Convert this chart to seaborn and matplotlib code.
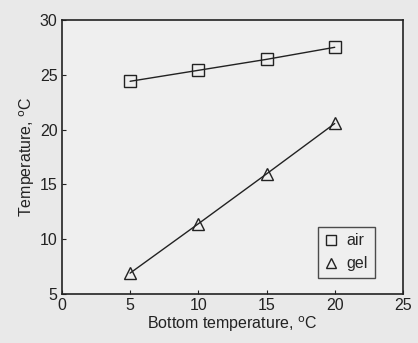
import matplotlib
matplotlib.use("Agg")
import matplotlib.pyplot as plt
import seaborn as sns
import pandas as pd

bottom_temp = [5, 10, 15, 20]
air = [24.4, 25.4, 26.4, 27.5]
gel = [6.9, 11.4, 15.95, 20.55]

df = pd.DataFrame({
    "x": bottom_temp * 2,
    "y": air + gel,
    "series": ["air"] * 4 + ["gel"] * 4,
})

sns.set_theme(style="ticks")
plt.rcParams['font.family'] = ['Liberation Sans', 'DejaVu Sans']

fig = plt.figure(figsize=(4.18, 3.43), dpi=100, facecolor="#e9e9e9")
ax = fig.add_axes([0.148, 0.143, 0.816, 0.799])
ax.set_facecolor("#efefef")

sns.lineplot(data=df, x="x", y="y", hue="series", style="series",
             markers={"air": "s", "gel": "^"}, dashes=False,
             palette={"air": "#222222", "gel": "#222222"},
             markersize=8.5, markerfacecolor="none", markeredgecolor="#222222",
             markeredgewidth=1.0, linewidth=1.0, ax=ax)

ax.set_xlim(0, 25)
ax.set_ylim(5, 30)
ax.set_xticks([0, 5, 10, 15, 20, 25])
ax.set_yticks([5, 10, 15, 20, 25, 30])
ax.tick_params(direction="in", length=3, width=0.8, labelsize=11.5, colors="#222222", pad=3)
for s in ax.spines.values():
    s.set_linewidth(1.2)
    s.set_color("#222222")

ax.set_xlabel("Bottom temperature, $^{\\mathrm{o}}$C", fontsize=11.5, color="#222222", labelpad=1)
ax.set_ylabel("Temperature, $^{\\mathrm{o}}$C", fontsize=11.5, color="#222222", labelpad=2)

handles, labels = ax.get_legend_handles_labels()
for h in handles:
    h.set_linestyle("none")
    h.set_markersize(7)
leg = ax.legend(handles, labels, loc="lower right", frameon=True, fancybox=False,
                edgecolor="#222222", facecolor="#efefef", fontsize=11.5,
                handlelength=0.8, handletextpad=0.6, borderpad=0.4,
                bbox_to_anchor=(0.94, 0.03))
leg.get_frame().set_linewidth(1.0)

fig.savefig("out.png", dpi=100, facecolor=fig.get_facecolor())
